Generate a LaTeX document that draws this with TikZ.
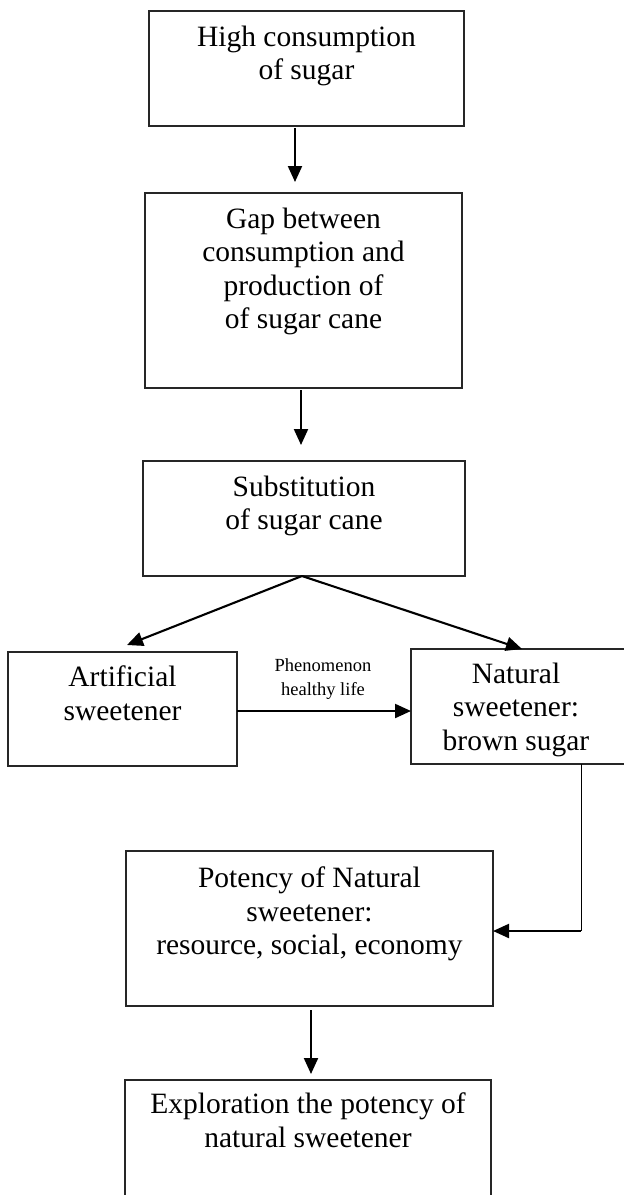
\documentclass[tikz,border=0pt]{standalone}
\usepackage{fontspec}
\setmainfont{Liberation Serif}
\usetikzlibrary{arrows.meta}
\begin{document}
\begin{tikzpicture}[x=1pt,y=-1pt,
  box/.style={draw=black!85, line width=1.1pt, inner sep=0pt, outer sep=0pt, anchor=north west},
  txt/.style={font=\fontsize{29.5}{33.5}\selectfont, align=center, inner sep=0pt, anchor=north,
    execute at begin node={\rule{0pt}{21pt}}},
  lbltxt/.style={font=\fontsize{18.5}{24}\selectfont, align=center, inner sep=0pt},
  arr/.style={line width=2.1pt, -{Triangle[length=16pt,width=14pt]}},
  thinline/.style={line width=1pt}]
\clip (0,0) rectangle (624,1195);
% boxes
\node[box, minimum width=315pt, minimum height=115pt] (b1) at (149,11) {};
\node[box, minimum width=317pt, minimum height=195pt] (b2) at (145,193) {};
\node[box, minimum width=322pt, minimum height=115pt] (b3) at (143,461) {};
\node[box, minimum width=229pt, minimum height=114pt] (art) at (8,652) {};
\node[box, minimum width=220pt, minimum height=115pt] (nat) at (411,649) {};
\node[box, minimum width=367pt, minimum height=155pt] (pot) at (126,851) {};
\node[box, minimum width=366pt, minimum height=150pt] (expl) at (125,1080) {};
% texts
\node[txt] (t1) at (306.5,25.7) {High consumption\\of sugar};
\node[txt] (t2) at (303.5,207.7) {Gap between\\consumption and\\production of\\of sugar cane};
\node[txt] (t3) at (304,475.7) {Substitution\\of sugar cane};
\node[txt] (ta) at (122.5,665.7) {Artificial\\sweetener};
\begin{scope}
\clip (411,649) rectangle (631,760);
\node[txt] (tn) at (516,662.7) {Natural\\sweetener:\\brown sugar};
\end{scope}
\node[txt] (tp) at (309.5,867) {Potency of Natural\\sweetener:\\resource, social, economy};
\node[txt] (te) at (308,1092.7) {Exploration the potency of\\natural sweetener};
\node[lbltxt] (lbl) at (323,679) {Phenomenon\\healthy life};
% connectors
\draw[arr] ([xshift=-11.5pt,yshift=-2pt]b1.south) -- ([xshift=-8.5pt,yshift=11pt]b2.north);
\draw[arr] ([xshift=-2.5pt,yshift=-2pt]b2.south) -- ([xshift=-3pt,yshift=16pt]b3.north);
\draw[arr] ([xshift=-2pt]b3.south) -- ([xshift=4.5pt,yshift=7pt]art.north);
\draw[arr] ([xshift=-2pt]b3.south) -- ([xshift=1pt]nat.north);
\draw[arr] ([yshift=-2pt]art.east) -- ([yshift=-2pt]art.east -| nat.west);
\coordinate (c1) at (581,931);
\draw[thinline] (nat.south -| c1) -- (c1);
\draw[arr] (c1) -- (c1 -| pot.east);
\draw[arr] ([xshift=1.5pt,yshift=-4pt]pot.south) -- ([xshift=3pt,yshift=6pt]expl.north);
\end{tikzpicture}
\end{document}
